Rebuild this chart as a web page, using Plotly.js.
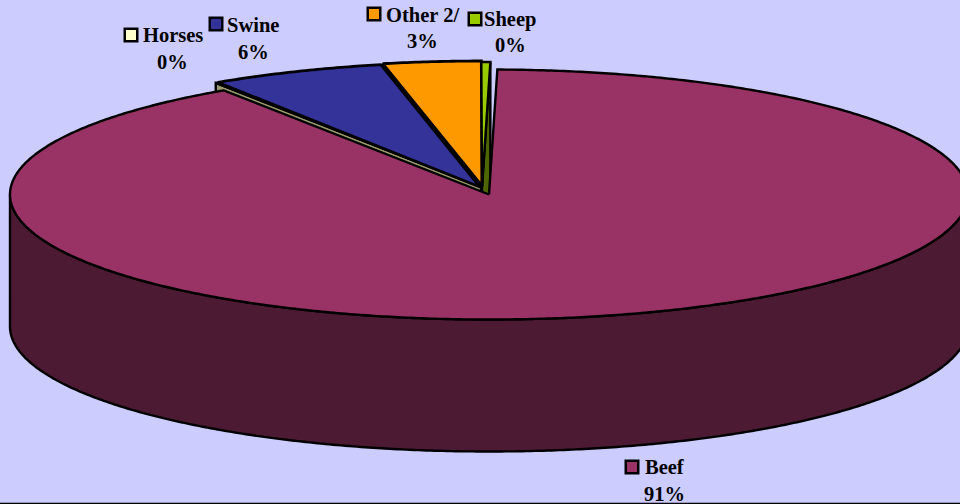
<!DOCTYPE html>
<html>
<head>
<meta charset="utf-8">
<script src="https://cdn.plot.ly/plotly-3.0.1.min.js"></script>
<style>html,body{margin:0;padding:0;background:#CCCCFF;overflow:hidden}#c{width:960px;height:504px}</style>
</head>
<body>
<div id="c"></div>
<script>
// Data
const categories = ['Beef', 'Horses', 'Swine', 'Other 2/', 'Sheep'];
const drawnShares = [90.4, 0.12, 5.9, 3.3, 0.3];
const percentLabels = ['91%', '0%', '6%', '3%', '0%'];
const topColors = ['#993366', '#FFFFCC', '#333399', '#FF9900', '#99CC00'];
const sideColors = ['#4D1A33', '#99996B', '#1A1A4D', '#804D00', '#4D6600'];

// Layout of the tilted disc
const startAngle = 1, rx = 479, ry = 125, depth = 132;
const centers = [[489,194.5],[481,187],[480,187],[482,186],[482,187]];
const swatchPos = [[632,467],[131,35],[216,24],[374,14],[475,19]];
const namePos = [[645,467],[143,35],[227,25],[386,15],[484,19]];
const pctPos = [[664,494],[172,62],[253,52],[422,41],[510,45]];
const fontSpec = {family:'"Liberation Serif", serif', size:20.5, color:'#000000'};

const total = drawnShares.reduce((a,b)=>a+b,0);
let acc = startAngle;
const spans = drawnShares.map(v => { const a = acc; acc += v/total*360; return [a, acc]; });
const pt = (c, t, dy=0) => {
  const r = t*Math.PI/180;
  return [c[0] + rx*Math.sin(r), c[1] - ry*Math.cos(r) + dy];
};
const arc = (c, a, b, dy=0) => {
  const n = Math.max(2, Math.ceil(Math.abs(b-a)*2)), out = [];
  for (let i=0;i<=n;i++) out.push(pt(c, a+(b-a)*i/n, dy));
  return out;
};
const poly = (points, fill, width=2.4) => ({
  type:'scatter', mode:'lines', x:points.map(p=>p[0]), y:points.map(p=>p[1]),
  fill:'toself', fillcolor:fill, line:{color:'#000000', width:width, simplify:false},
  hoverinfo:'skip', showlegend:false
});

const traces = [];
// outer wall of the beef slice
const wallTop = arc(centers[0], 90, 270);
const wallBot = arc(centers[0], 270, 90, depth);
traces.push(poly(wallTop.concat(wallBot, [wallTop[0]]), sideColors[0]));
// cut faces visible through the gaps: horses (leading edge), sheep (trailing edge)
const face = (i, t) => {
  const c = centers[i], r = pt(c, t);
  return [c, r, [r[0], r[1]+depth], [c[0], c[1]+depth], c];
};
traces.push(poly(face(1, spans[1][0]), sideColors[1]));
traces.push(poly(face(4, spans[4][1]), sideColors[4]));
// top surfaces
[1,2,3,4,0].forEach(i => {
  const c = centers[i];
  traces.push(poly([c].concat(arc(c, spans[i][0], spans[i][1]), [c]), topColors[i], i===3||i===2 ? 2.8 : 2.4));
});
// label swatches
traces.push({
  type:'scatter', mode:'markers', x:swatchPos.map(p=>p[0]), y:swatchPos.map(p=>p[1]),
  marker:{symbol:'square', size:12.5, color:topColors, line:{color:'#000000', width:2.5}},
  hoverinfo:'skip', showlegend:false, cliponaxis:false
});

const annotations = [];
categories.forEach((name,i) => {
  annotations.push({xref:'x', yref:'y', x:namePos[i][0], y:namePos[i][1], xanchor:'left', yanchor:'middle',
    text:'<b>'+name+'</b>', showarrow:false, font:fontSpec, borderpad:0, borderwidth:0});
  annotations.push({xref:'x', yref:'y', x:pctPos[i][0], y:pctPos[i][1], xanchor:'center', yanchor:'middle',
    text:'<b>'+percentLabels[i]+'</b>', showarrow:false, font:fontSpec, borderpad:0, borderwidth:0});
});

Plotly.newPlot('c', traces, {
  width:960, height:504, margin:{l:0,r:0,t:0,b:0},
  paper_bgcolor:'#CCCCFF', plot_bgcolor:'#CCCCFF', showlegend:false,
  xaxis:{range:[0,960], visible:false, fixedrange:true},
  yaxis:{range:[504,0], visible:false, fixedrange:true},
  annotations:annotations,
  shapes:[{type:'line', xref:'x', yref:'y', x0:0, x1:960, y0:503.5, y1:503.5, line:{color:'#000000', width:1.5}}]
}, {displayModeBar:false, staticPlot:true});
</script>
</body>
</html>
